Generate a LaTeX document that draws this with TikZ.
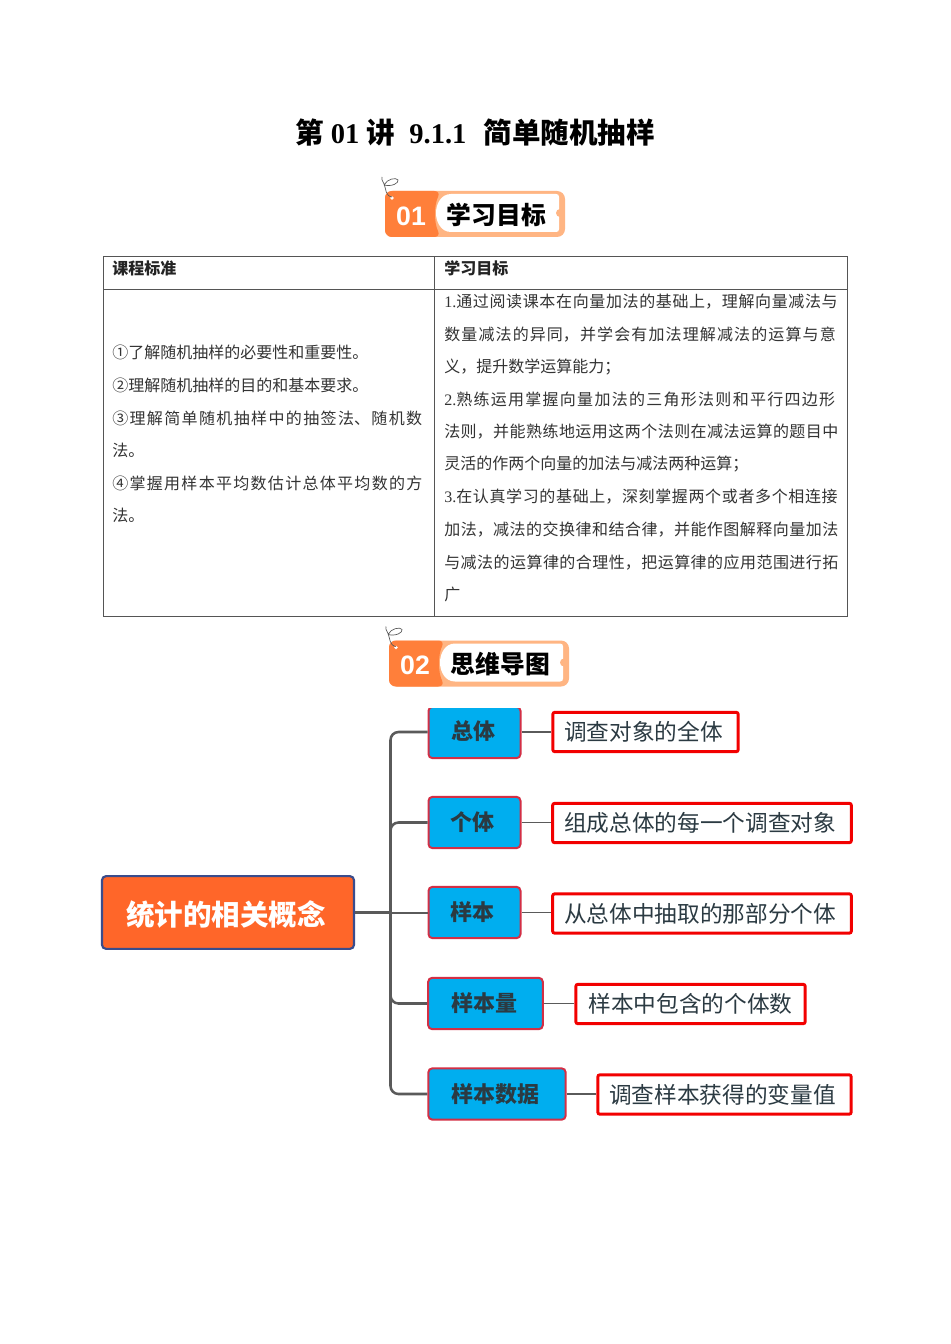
\documentclass[tikz,border=0pt]{standalone}
\usepackage{fontspec}
\setmainfont{Noto Sans CJK SC}
\newfontfamily\lat{Liberation Serif}
\newfontfamily\latsans{Liberation Sans}
\XeTeXlinebreaklocale "zh"
\XeTeXlinebreakskip=0pt plus 6pt
\hbadness=10000
\definecolor{tline}{HTML}{555555}
\definecolor{ttext}{HTML}{333333}
\definecolor{bdark}{HTML}{FF7F3A}
\definecolor{blight}{HTML}{FFB583}
\definecolor{rootfill}{HTML}{FF6629}
\definecolor{rootline}{HTML}{3A4C8C}
\definecolor{bluefill}{HTML}{00AEEF}
\definecolor{blueline}{HTML}{D32F45}
\definecolor{redline}{HTML}{F20000}
\definecolor{conn}{HTML}{5A5A5A}
\definecolor{mmtext}{HTML}{2B3A42}
\newcommand{\jline}[1]{\parfillskip=0pt\relax #1\par}
\tikzset{
  tablerule/.style={draw=tline,line width=0.75pt},
  lefttext/.style={anchor=west,inner sep=0pt,font=\fontsize{12}{14}\selectfont,text=ttext},
  leftjust/.style={lefttext,text width=236.5pt},
  rightjust/.style={lefttext,text width=297pt},
  headtext/.style={lefttext,text=ttext!70!black,font=\fontsize{12}{14}\selectfont\bfseries},
  rootbox/.style={draw=rootline,fill=rootfill,line width=1.6pt,rounded corners=3pt,inner sep=0pt,
    minimum width=189pt,minimum height=54.5pt,text=white,font=\fontsize{21.4}{24}\selectfont\bfseries},
  bluebox/.style={draw=blueline,fill=bluefill,line width=1.5pt,rounded corners=3pt,inner sep=0pt,
    minimum height=38.5pt,text=mmtext,font=\fontsize{16.5}{20}\selectfont\bfseries},
  redbox/.style={draw=redline,fill=white,line width=2.2pt,rounded corners=1.5pt,inner sep=0pt,
    minimum height=29.5pt,text=mmtext,font=\fontsize{17}{20}\selectfont},
  trunkline/.style={draw=conn,line width=1.9pt,rounded corners=6pt},
  leafline/.style={draw=conn,line width=0.9pt},
  bannernum/.style={text=white,inner sep=0pt,font=\fontsize{20}{22}\selectfont\bfseries\latsans},
  bannertitle/.style={text=black,inner sep=0pt,font=\fontsize{18.6}{22}\selectfont\bfseries},
}
\newcommand{\bannerdraw}[5]{%
  \begin{scope}[shift={(#1,#2)}]
    \fill[blight,rounded corners=6pt] (385,191) rectangle (565,237);
    \fill[bdark,rounded corners=5pt] (385,237) -- (385,191) -- (441,191)
      .. controls (434,205) and (434,223) .. (441,237) -- cycle;
    \fill[white] (451,194) -- (556,194) .. controls (558,194) and (559,195) .. (559,197)
      -- (559,229) .. controls (559,231) and (558,232) .. (556,232) -- (451,232)
      .. controls (441,232) and (436,222) .. (436,213)
      .. controls (436,204) and (441,194) .. (451,194) -- cycle;
    \fill[blight] (560,213) circle[radius=4];
    \fill[white] (392,198) circle[radius=1.8];
    \draw[black!65,line width=0.5pt] (392,197) .. controls (385,196) and (386,188) .. (384,184)
      .. controls (382,180) and (381,178) .. (382,177)
      (384,185) .. controls (392,187) and (399,183) .. (398,180)
      .. controls (396,177) and (387,179) .. (384,185);
  \end{scope}
  \node[bannernum] (#5num) at ({411+#1},{216+#2}) {#3};
  \node[bannertitle] (#5title) at ({496.5+#1},{215+#2}) {#4};
}
\begin{document}
\begin{tikzpicture}[x=0.75pt,y=-0.75pt]
\useasboundingbox (0,0) rectangle (950,1344);
\fill[white] (0,0) rectangle (950,1344);

% Title
\node[inner sep=0pt,text=black,font=\fontsize{21.4}{26}\selectfont\bfseries] (title) at (475,133)
  {第\hspace{0.25em}{\lat 01}\hspace{0.25em}讲\hspace{0.5em}{\lat 9.1.1}\hspace{0.6em}简单随机抽样};

% Banner 1
\bannerdraw{0}{0}{01}{学习目标}{bannerA}

% Table
\draw[tablerule] (103,257) rectangle (847,616.5);
\draw[tablerule] (103,290) -- (847,290);
\draw[tablerule] (434.5,257) -- (434.5,616.5);

\node[headtext] (hl) at (112,268.5) {课程标准};
\node[headtext] (hr) at (444,268.5) {学习目标};

\node[lefttext] (l1) at (112,352) {①了解随机抽样的必要性和重要性。};
\node[lefttext] (l2) at (112,385) {②理解随机抽样的目的和基本要求。};
\node[leftjust] (l3) at (112,418) {\jline{③理解简单随机抽样中的抽签法、随机数}};
\node[lefttext] (l4) at (112,450) {法。};
\node[leftjust] (l5) at (112,483) {\jline{④掌握用样本平均数估计总体平均数的方}};
\node[lefttext] (l6) at (112,515) {法。};

\node[rightjust] (r1) at (444,302) {\jline{{\lat 1.}通过阅读课本在向量加法的基础上，理解向量减法与}};
\node[rightjust] (r2) at (444,334.5) {\jline{数量减法的异同，并学会有加法理解减法的运算与意}};
\node[lefttext] (r3) at (444,367) {义，提升数学运算能力；};
\node[rightjust] (r4) at (444,399.5) {\jline{{\lat 2.}熟练运用掌握向量加法的三角形法则和平行四边形}};
\node[rightjust] (r5) at (444,432) {\jline{法则，并能熟练地运用这两个法则在减法运算的题目中}};
\node[lefttext] (r6) at (444,464.5) {灵活的作两个向量的加法与减法两种运算；};
\node[rightjust] (r7) at (444,497) {\jline{{\lat 3.}在认真学习的基础上，深刻掌握两个或者多个相连接}};
\node[rightjust] (r8) at (444,530) {\jline{加法，减法的交换律和结合律，并能作图解释向量加法}};
\node[rightjust] (r9) at (444,562.5) {\jline{与减法的运算律的合理性，把运算律的应用范围进行拓}};
\node[lefttext] (r10) at (444,594.5) {广};

% Banner 2
\bannerdraw{4}{449.5}{02}{思维导图}{bannerB}

% Mind map nodes
\node[rootbox] (root) at (228,912.5) {\hspace{-3pt}\raisebox{-9.6pt}[0pt][0pt]{统计的相关概念}};
\node[bluebox,minimum width=69pt] (b1) at (474.5,732.5) {};
\fill[white] (420,698) rectangle (530,707.5);
\node[inner sep=0pt,text=mmtext,font=\fontsize{16.5}{20}\selectfont\bfseries] (b1t) at (473,731.5) {总体};
\node[bluebox,minimum width=69pt] (b2) at (474.5,822.5) {\hspace{-3pt}个体};
\node[bluebox,minimum width=69pt] (b3) at (474.5,912.5) {\hspace{-3pt}样本};
\node[bluebox,minimum width=86pt] (b4) at (485.5,1003.5) {\hspace{-2pt}样本量};
\node[bluebox,minimum width=103pt] (b5) at (497,1094) {\hspace{-3pt}样本数据};

\node[redbox,minimum width=139pt] (n1) at (645.5,732) {\hspace{-3pt}调查对象的全体};
\node[redbox,minimum width=224pt] (n2) at (702,823) {\hspace{-3pt}组成总体的每一个调查对象};
\node[redbox,minimum width=224pt] (n3) at (702,913.5) {\hspace{-3pt}从总体中抽取的那部分个体};
\node[redbox,minimum width=172pt] (n4) at (690.5,1004) {样本中包含的个体数};
\node[redbox,minimum width=190pt] (n5) at (724.5,1094.5) {\hspace{-3pt}调查样本获得的变量值};

% Connectors
\coordinate (trunk) at (390.5,912.5);
\draw[draw=conn,line width=2.6pt] (root.east) -- (trunk);
\draw[trunkline] (trunk) |- (b1.west |- n1.west);
\draw[trunkline] (trunk) |- (b2.west);
\draw[draw=conn,line width=1.5pt] (trunk) -- (b3.west);
\draw[trunkline] (trunk) |- (b4.west);
\draw[trunkline] (trunk) |- (b5.west);

\draw[leafline] (b1.east |- n1.west) -- (n1.west);
\draw[leafline] (b2.east) -- (b2.east -| n2.west);
\draw[leafline] (b3.east) -- (b3.east -| n3.west);
\draw[leafline] (b4.east) -- (b4.east -| n4.west);
\draw[leafline] (b5.east) -- (b5.east -| n5.west);
\end{tikzpicture}
\end{document}
